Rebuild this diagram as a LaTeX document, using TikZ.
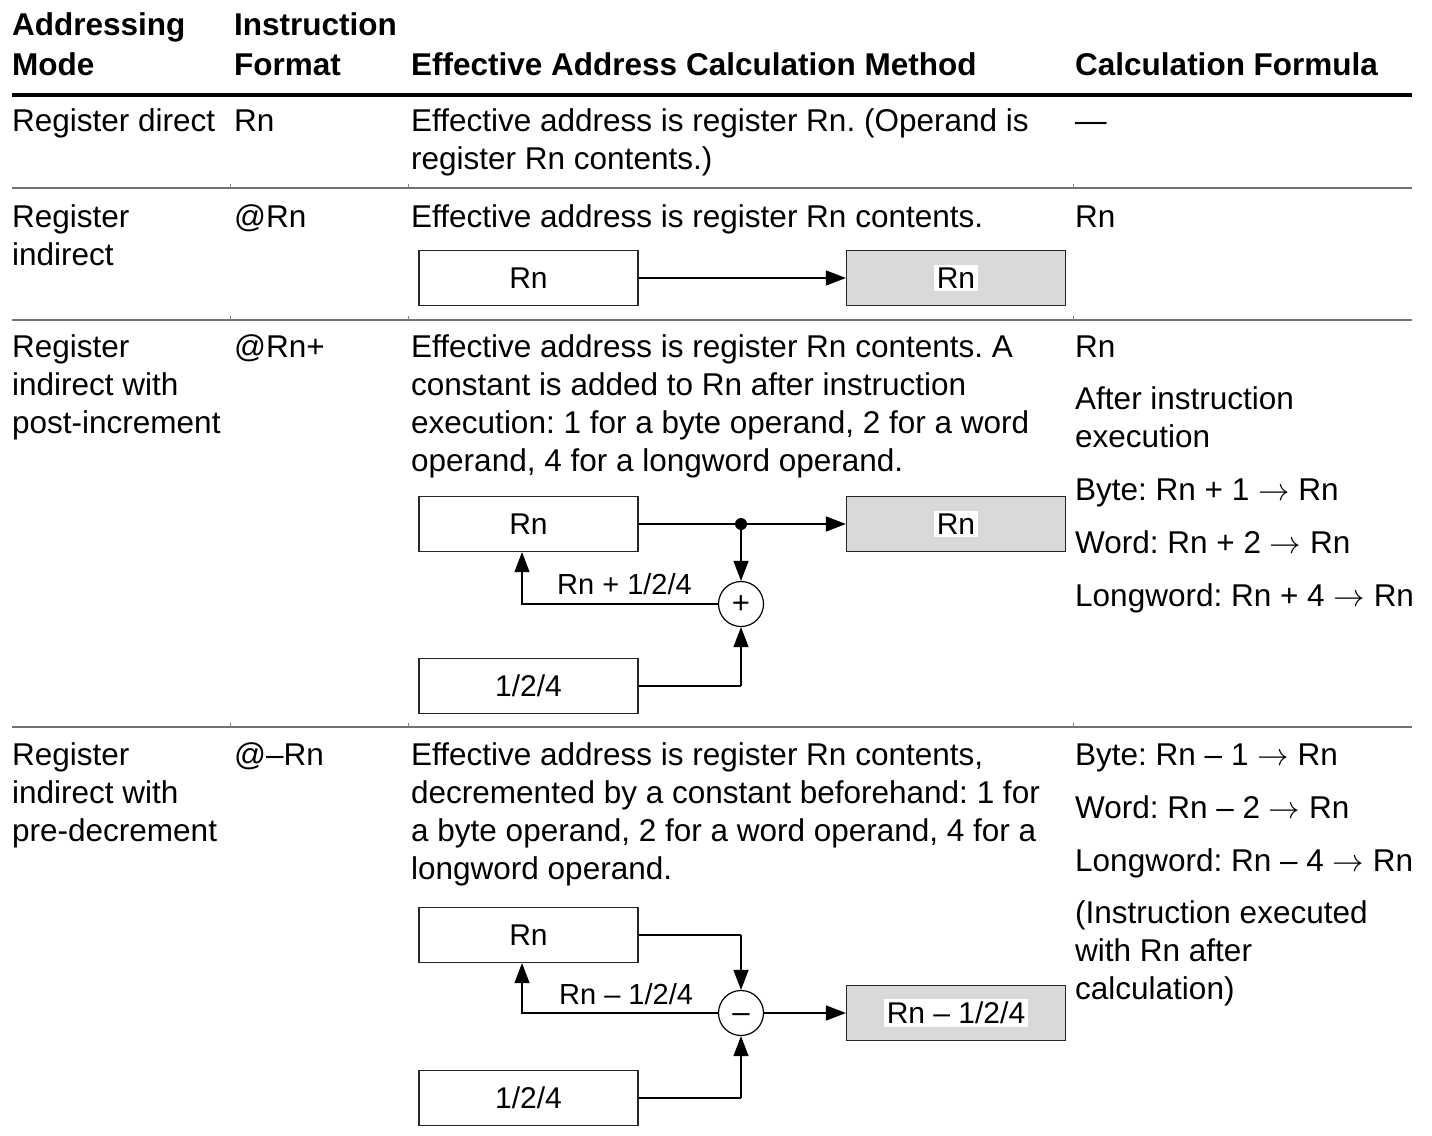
\RequirePackage{fix-cm}
\documentclass[tikz,border=0pt]{standalone}
\usepackage{fontspec}
\setmainfont{Liberation Sans}
\usetikzlibrary{arrows.meta}
\begin{document}
\frenchspacing
\begin{tikzpicture}[x=1pt,y=-1pt,
  txt/.style={anchor=base west,inner sep=0pt,font=\fontsize{31.5}{36}\selectfont},
  hdr/.style={txt,font=\fontsize{31.5}{36}\selectfont\bfseries},
  regbox/.style={draw=black!85,line width=1.2pt,minimum width=219pt,minimum height=55pt,inner sep=0pt,font=\fontsize{30}{34}\selectfont},
  effbox/.style={regbox,fill=black!15},
  lbl/.style={fill=white,inner sep=3pt,font=\fontsize{30}{34}\selectfont},
  dlbl/.style={anchor=base west,inner sep=0pt,font=\fontsize{29}{34}\selectfont},
  opc/.style={circle,draw=black,line width=1.2pt,minimum size=45pt,inner sep=0pt,text height=19pt,text depth=0pt,font=\fontsize{31}{34}\selectfont},
  sep/.style={draw=black!55,line width=1.5pt},
  conn/.style={draw=black,line width=1.2pt},
  arr/.style={conn,-{Triangle[length=20pt,width=15pt]}},
]
\useasboundingbox (0,0) rectangle (1432,1135);
% header
\node[hdr] (h1a) at (12,35) {Addressing};
\node[hdr] (h1b) at (12,75) {Mode};
\node[hdr] (h2a) at (234,35) {Instruction};
\node[hdr] (h2b) at (234,75) {Format};
\node[hdr] (h3) at (411,75) {Effective Address Calculation Method};
\node[hdr] (h4) at (1075,75) {Calculation Formula};
\draw[line width=4pt] (12,95) -- (1412,95);
% separators
\foreach \yy in {188,320,727}{
  \draw[sep] (12,\yy) -- (1412,\yy);
  \foreach \xx in {230,408,1073}{\draw[black!50,line width=0.8pt] (\xx,\yy) -- (\xx,\yy-4);}
}
% row 1
\node[txt] (r1a) at (12,131) {Register direct};
\node[txt] (r1b) at (234,131) {Rn};
\node[txt] (r1c1) at (411,131) {Effective address is register Rn. (Operand is};
\node[txt] (r1c2) at (411,169) {register Rn contents.)};
\node[txt] (r1d) at (1075,131) {—};
% row 2
\node[txt] (r2a1) at (12,227) {Register};
\node[txt] (r2a2) at (12,265) {indirect};
\node[txt] (r2b) at (234,227) {@Rn};
\node[txt] (r2c) at (411,227) {Effective address is register Rn contents.};
\node[txt] (r2d) at (1075,227) {Rn};
\node[regbox] (b2rn) at (528.5,278) {Rn};
\node[effbox] (b2ea) at (956,278) {};
\node[lbl] (b2eal) at (b2ea) {Rn};
\draw[arr] (b2rn) -- (b2ea);
% row 3
\node[txt] (r3a1) at (12,357) {Register};
\node[txt] (r3a2) at (12,395) {indirect with};
\node[txt] (r3a3) at (12,433) {post-increment};
\node[txt] (r3b) at (234,357) {@Rn+};
\node[txt] (r3c1) at (411,357) {Effective address is register Rn contents. A};
\node[txt] (r3c2) at (411,395) {constant is added to Rn after instruction};
\node[txt] (r3c3) at (411,433) {execution: 1 for a byte operand, 2 for a word};
\node[txt] (r3c4) at (411,471) {operand, 4 for a longword operand.};
\node[txt] (r3d1) at (1075,357) {Rn};
\node[txt] (r3d2) at (1075,409) {After instruction};
\node[txt] (r3d3) at (1075,447) {execution};
\node[txt] (r3d4) at (1075,500) {Byte: Rn + 1 $\rightarrow$ Rn};
\node[txt] (r3d5) at (1075,553) {Word: Rn + 2 $\rightarrow$ Rn};
\node[txt] (r3d6) at (1075,606) {Longword: Rn + 4 $\rightarrow$ Rn};
\node[regbox] (b3rn) at (528.5,524) {Rn};
\node[effbox] (b3ea) at (956,524) {};
\node[lbl] (b3eal) at (b3ea) {Rn};
\node[opc] (b3op) at (741,604) {+};
\node[regbox] (b3c) at (528.5,686) {1/2/4};
\coordinate (b3j) at (741,524);
\coordinate (b3f) at (522,604);
\coordinate (b3k) at (741,686);
\draw[arr] (b3rn) -- (b3ea);
\fill (b3j) circle (6pt);
\draw[arr] (b3j) -- (b3op);
\draw[arr] (b3op.west) -- (b3f) -- (b3f |- b3rn.south);
\node[dlbl] (b3lab) at (557,594) {Rn + 1/2/4};
\draw[conn] (b3c.east) -- (b3k);
\draw[arr] (b3k) -- (b3op.south);
% row 4
\node[txt] (r4a1) at (12,765) {Register};
\node[txt] (r4a2) at (12,803) {indirect with};
\node[txt] (r4a3) at (12,841) {pre-decrement};
\node[txt] (r4b) at (234,765) {@–Rn};
\node[txt] (r4c1) at (411,765) {Effective address is register Rn contents,};
\node[txt] (r4c2) at (411,803) {decremented by a constant beforehand: 1 for};
\node[txt] (r4c3) at (411,841) {a byte operand, 2 for a word operand, 4 for a};
\node[txt] (r4c4) at (411,879) {longword operand.};
\node[txt] (r4d1) at (1075,765) {Byte: Rn – 1 $\rightarrow$ Rn};
\node[txt] (r4d2) at (1075,818) {Word: Rn – 2 $\rightarrow$ Rn};
\node[txt] (r4d3) at (1075,871) {Longword: Rn – 4 $\rightarrow$ Rn};
\node[txt] (r4d4) at (1075,923) {(Instruction executed};
\node[txt] (r4d5) at (1075,961) {with Rn after};
\node[txt] (r4d6) at (1075,999) {calculation)};
\node[regbox] (b4rn) at (528.5,935) {Rn};
\node[opc] (b4op) at (741,1013) {–};
\node[effbox] (b4ea) at (956,1013) {};
\node[lbl] (b4eal) at (b4ea) {Rn – 1/2/4};
\node[regbox] (b4c) at (528.5,1098) {1/2/4};
\coordinate (b4j) at (741,935);
\coordinate (b4f) at (522,1013);
\coordinate (b4k) at (741,1098);
\draw[conn] (b4rn.east) -- (b4j);
\draw[arr] (b4j) -- (b4op.north);
\draw[arr] (b4op) -- (b4ea);
\draw[arr] (b4op.west) -- (b4f) -- (b4f |- b4rn.south);
\node[dlbl] (b4lab) at (559,1004) {Rn – 1/2/4};
\draw[conn] (b4c.east) -- (b4k);
\draw[arr] (b4k) -- (b4op.south);
\end{tikzpicture}
\end{document}
